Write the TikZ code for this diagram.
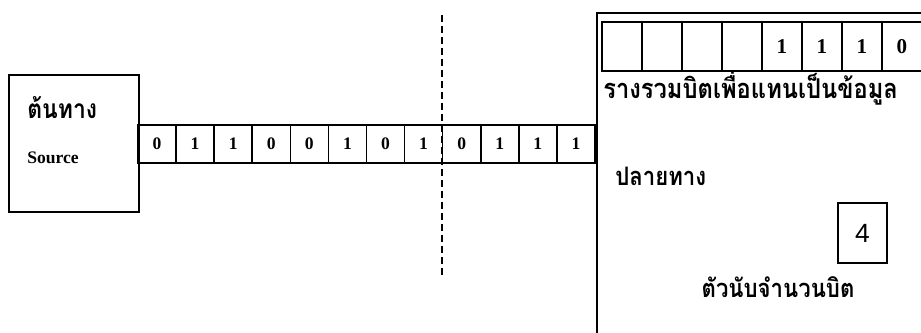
\documentclass[tikz,border=0pt]{standalone}
\usepackage{fontspec}
\setmainfont{Liberation Serif}
\setsansfont{Liberation Sans}
\newfontfamily\thaifont[Script=Thai, FakeStretch=0.87]{Loma}
\usetikzlibrary{positioning,calc}

\tikzset{
  box/.style={draw, line width=1pt, inner sep=0pt},
  bitcell/.style={draw, line width=0.9pt, inner sep=0pt, minimum width=0.762cm, minimum height=0.76cm, font=\bfseries\fontsize{10}{12}\selectfont},
  regcell/.style={draw, line width=0.9pt, inner sep=0pt, minimum width=0.8cm, minimum height=0.98cm, font=\bfseries\fontsize{12}{14}\selectfont},
  thaitext/.style={inner sep=0pt, font=\thaifont\bfseries\fontsize{14.5}{16}\selectfont}
}

\begin{document}
\begin{tikzpicture}[x=0.02cm, y=-0.02cm]
\useasboundingbox (0,0) rectangle (921,332);

% source side
\node[box, minimum width=2.6cm, minimum height=2.74cm, anchor=north west] (src) at (8,74) {};
\node[thaitext, anchor=base west, font=\thaifont\bfseries\fontsize{15}{17}\selectfont] (srcth) at (27,118) {ต้นทาง};
\node[inner sep=0pt, anchor=base west, font=\bfseries\fontsize{10}{12}\selectfont] (srcen) at (27,163) {Source};

% bit stream on the line
\foreach \b [count=\i] in {0,1,1,0,0,1,0,1,0,1,1,1}
  \node[bitcell] (bit\i) at ({138+38.08*(\i-0.5)},144) {\b};

% cut line
\coordinate (cuttop) at (442,15);
\coordinate (cutbot) at (442,278);
\draw[line width=1.3pt, dash pattern=on 0.14cm off 0.08cm] (cuttop) -- (cutbot);

% destination side
\node[box, minimum width=7cm, minimum height=7cm, anchor=north west] (dst) at (596,12) {};
\foreach \b [count=\i] in {{},{},{},{},1,1,1,0}
  \node[regcell] (reg\i) at ({622+40*(\i-1)},46.5) {\b};
\node[thaitext, anchor=base west, font=\thaifont\bfseries\fontsize{15.5}{17}\selectfont] (regth) at (603,98) {รางรวมบิตเพื่อแทนเป็นข้อมูล};
\node[thaitext, anchor=base west] (dstth) at (615,185) {ปลายทาง};
\node[box, minimum width=0.98cm, minimum height=1.2cm, font=\sffamily\fontsize{15}{17}\selectfont] (count) at (862.5,233) {4};
\node[thaitext, anchor=base] (countth) at (778,297) {ตัวนับจำนวนบิต};
\end{tikzpicture}
\end{document}
